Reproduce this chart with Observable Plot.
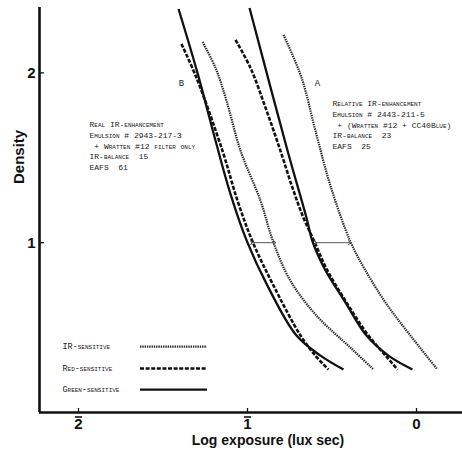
<!DOCTYPE html>
<html><head><meta charset="utf-8">
<script src="https://cdn.jsdelivr.net/npm/d3@7"></script>
<script src="https://cdn.jsdelivr.net/npm/@observablehq/plot@0.6"></script>
<style>
body{margin:0;background:#fff}
#chart svg{display:block}
</style>
</head><body><div id="chart"></div>
<script>
// ---- data ----
const xTicks = [-2, -1, 0];
const yTicks = [1, 2];
const seriesNames = ["IR-sensitive", "Red-sensitive", "Green-sensitive"];
const xLabel = "Log exposure (lux sec)";
const yLabel = "Density";

// Group B: real IR-enhancement
const bIrX    = [-1.266, -1.189, -1.124, -1.041, -0.923, -0.846, -0.746, -0.592, -0.391, -0.254];
const bIrY    = [ 2.182,  2.029,  1.835,  1.541,  1.247,  1.000,  0.776,  0.571,  0.382,  0.253];
const bRedX   = [-1.391, -1.302, -1.148, -1.059, -0.970, -0.846, -0.686, -0.598, -0.521];
const bRedY   = [ 2.171,  1.971,  1.541,  1.247,  1.006,  0.747,  0.453,  0.335,  0.253];
const bGreenX = [-1.408, -1.296, -1.189, -1.101, -1.000, -0.882, -0.710, -0.568, -0.432];
const bGreenY = [ 2.376,  2.000,  1.600,  1.288,  1.000,  0.747,  0.453,  0.335,  0.253];

// Group A: relative IR-enhancement
const aIrX    = [-0.787, -0.680, -0.598, -0.509, -0.391, -0.308, -0.183, -0.036, 0.124];
const aIrY    = [ 2.224,  1.971,  1.659,  1.335,  1.006,  0.847,  0.647,  0.453, 0.253];
const aRedX   = [-1.071, -0.982, -0.893, -0.811, -0.734, -0.669, -0.604, -0.533, -0.414, -0.284, -0.183, -0.112];
const aRedY   = [ 2.194,  2.029,  1.794,  1.559,  1.324,  1.147,  1.006,  0.847,  0.647,  0.453,  0.335,  0.253];
const aGreenX = [-0.988, -0.763, -0.651, -0.615, -0.544, -0.420, -0.296, -0.166, -0.024];
const aGreenY = [ 2.382,  1.541,  1.147,  1.006,  0.847,  0.647,  0.453,  0.335,  0.253];

// speed-difference arrows at density 1
const arrowX1 = [-0.976, -0.598];
const arrowX2 = [-0.840, -0.396];
const arrowY  = [1, 1];

const groupLetters = ["B", "A"];
const notesB = ["Real IR-enhancement", "Emulsion # 2943-217-3", "\u00a0+ Wratten #12 filter only", "IR-balance\u00a0\u00a015", "EAFS\u00a0\u00a061"];
const notesA = ["Relative IR-enhancement", "Emulsion # 2443-211-5", "\u00a0+ (Wratten #12 + CC40Blue)", "IR-balance\u00a0\u00a023", "EAFS\u00a0\u00a025"];

// ---- build tables ----
const curves = [
  {group: "B", series: "IR-sensitive", xs: bIrX, ys: bIrY},
  {group: "B", series: "Red-sensitive", xs: bRedX, ys: bRedY},
  {group: "B", series: "Green-sensitive", xs: bGreenX, ys: bGreenY},
  {group: "A", series: "IR-sensitive", xs: aIrX, ys: aIrY},
  {group: "A", series: "Red-sensitive", xs: aRedX, ys: aRedY},
  {group: "A", series: "Green-sensitive", xs: aGreenX, ys: aGreenY}
];
const rows = curves.flatMap(c => c.xs.map((x, i) => ({group: c.group, series: c.series, x, y: c.ys[i]})));
const arrows = arrowX1.map((x1, i) => ({x1, x2: arrowX2[i], y: arrowY[i]}));

const styles = {
  "IR-sensitive":    {stroke: "#2a2a2a", strokeWidth: 2.2, strokeDasharray: "1.4,0.9"},
  "Red-sensitive":   {stroke: "#111", strokeWidth: 2.6, strokeDasharray: "4,1.6"},
  "Green-sensitive": {stroke: "#111", strokeWidth: 2.3, strokeDasharray: null}
};

const W = 462, H = 452;
const mL = 39, mR = 0, mT = 7, mB = 40;
const xDom = [-2.2308, 0.2722];
const yDom = [0, 2.385];
const frameW = W - mL - mR, frameH = H - mT - mB;
const pxPerX = frameW / (xDom[1] - xDom[0]);

const sans = "Liberation Sans, Arial, sans-serif";
const noteFont = {fontFamily: "Liberation Mono, DejaVu Sans Mono, monospace", fontVariant: "small-caps", fill: "#222"};

const lineMarks = seriesNames.map(s => Plot.line(rows.filter(r => r.series === s), {
  x: "x", y: "y", z: "group", curve: "catmull-rom", strokeLinecap: "butt", ...styles[s]
}));

// legend (inside lower-left of the frame)
const legendYs = [0.388, 0.259, 0.135];
const legendRows = seriesNames.map((s, i) => ({series: s, y: legendYs[i]}));
const negTicks = xTicks.filter(d => d < 0);
const barHalf = 3.6 / pxPerX;

const chart = Plot.plot({
  width: W, height: H,
  marginLeft: mL, marginRight: mR, marginTop: mT, marginBottom: mB,
  style: {background: "#fff", color: "#111"},
  x: {domain: xDom},
  y: {domain: yDom},
  marks: [
    Plot.axisX({ticks: xTicks, tickFormat: d => `${Math.abs(d)}`, tickSize: 0, tickPadding: 6, fontSize: 15, fontWeight: "bold", fontFamily: sans, label: null}),
    // bar over negative characteristics (2̄, 1̄)
    Plot.link(negTicks, {x1: d => d - barHalf, x2: d => d + barHalf, y1: () => 0, y2: () => 0, dy: 4.5, stroke: "#111", strokeWidth: 1.6}),
    Plot.axisY({ticks: yTicks, tickFormat: d => `${d}`, tickSize: 0, tickPadding: 4, fontSize: 15, fontWeight: "bold", fontFamily: sans, label: null}),
    // inside tick marks
    Plot.tickX(xTicks, {x: d => d, insetTop: frameH - 4, stroke: "#111", strokeWidth: 1.3}),
    Plot.tickY(yTicks, {y: d => d, insetRight: frameW - 5, stroke: "#111", strokeWidth: 1.3}),
    // axis lines
    Plot.ruleX([xDom[0]], {stroke: "#111", strokeWidth: 2.6}),
    Plot.ruleY([0], {stroke: "#111", strokeWidth: 2.6}),
    // curves
    ...lineMarks,
    // arrows at density 1
    Plot.link(arrows, {x1: "x1", x2: "x2", y1: "y", y2: "y", stroke: "#555", strokeWidth: 1, markerStart: "arrow", markerEnd: "arrow"}),
    // group letters
    Plot.text(groupLetters, {x: [-1.391, -0.586], y: [1.941, 1.941], text: d => d, fontSize: 9, ...noteFont}),
    // annotation blocks
    Plot.text([notesB.join("\n")], {x: -1.935, y: 1.574, text: d => d, textAnchor: "start", lineAnchor: "middle", lineHeight: 1.34, fontSize: 8, ...noteFont}),
    Plot.text([notesA.join("\n")], {x: -0.497, y: 1.697, text: d => d, textAnchor: "start", lineAnchor: "middle", lineHeight: 1.34, fontSize: 8, ...noteFont}),
    // legend
    Plot.text(legendRows, {x: -2.095, y: "y", text: "series", textAnchor: "start", fontSize: 8.5, letterSpacing: 0.4, ...noteFont}),
    ...seriesNames.map((s, i) => Plot.ruleY([legendRows[i]], {y: "y", x1: -1.633, x2: -1.237, strokeLinecap: "butt", ...styles[s]})),
    // axis titles
    Plot.text([xLabel], {frameAnchor: "bottom", dx: 17, dy: 32, text: d => d, fontSize: 14, fontWeight: "bold", fontFamily: sans, fill: "#111"}),
    Plot.text([yLabel], {frameAnchor: "left", dx: -20, dy: -26, rotate: -90, text: d => d, fontSize: 15, fontWeight: "bold", letterSpacing: 1, fontFamily: sans, fill: "#111"})
  ]
});
document.getElementById("chart").appendChild(chart);
</script>
</body></html>
